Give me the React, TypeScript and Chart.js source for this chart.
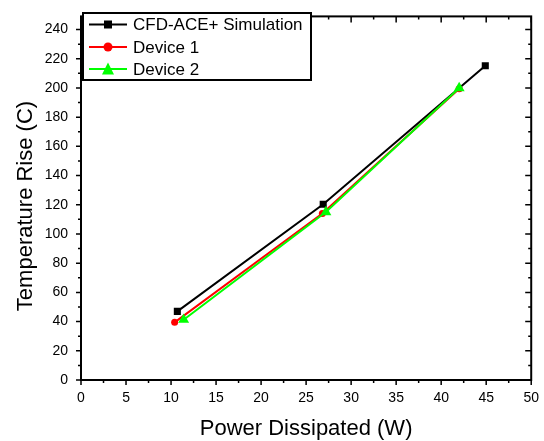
import React, { useEffect, useRef } from 'react';
import { Chart, registerables } from 'chart.js';

Chart.register(...registerables);

const seriesNames = ['CFD-ACE+ Simulation', 'Device 1', 'Device 2'];
const cfdX = [10.7, 26.9, 44.9];
const cfdY = [47, 120.4, 215.2];
const dev1X = [10.4, 26.8, 42.0];
const dev1Y = [39.5, 114, 199.5];
const dev2X = [11.4, 27.2, 42.0];
const dev2Y = [41.3, 115, 199.9];
const xTicks = [0, 5, 10, 15, 20, 25, 30, 35, 40, 45, 50];
const yTicks = [0, 20, 40, 60, 80, 100, 120, 140, 160, 180, 200, 220, 240];
const xTitle = 'Power Dissipated (W)';
const yTitle = 'Temperature Rise (C)';

const FONT = '"Liberation Sans", Arial, sans-serif';
const colors = ['#000000', '#ff0000', '#00ff00'];
const styles = ['rect', 'circle', 'triangle'];

function pts(xs: number[], ys: number[]) {
  return xs.map((x, i) => ({ x, y: ys[i] }));
}

function drawMarker(ctx: CanvasRenderingContext2D, style: string, x: number, y: number, size: number, color: string) {
  ctx.save();
  ctx.fillStyle = color;
  ctx.beginPath();
  if (style === 'rect') {
    ctx.rect(x - size / 2, y - size / 2, size, size);
  } else if (style === 'circle') {
    ctx.arc(x, y, size / 2, 0, Math.PI * 2);
  } else {
    const h = size * 0.9;
    ctx.moveTo(x, y - h / 2 - 1);
    ctx.lineTo(x + size / 2, y + h / 2);
    ctx.lineTo(x - size / 2, y + h / 2);
    ctx.closePath();
  }
  ctx.fill();
  ctx.restore();
}

const framePlugin = {
  id: 'framePlugin',
  afterDraw(chart: any) {
    const ctx: CanvasRenderingContext2D = chart.ctx;
    const { left, right, top, bottom } = chart.chartArea;
    const xs = chart.scales.x;
    const ys = chart.scales.y;
    ctx.save();
    ctx.strokeStyle = '#000';
    ctx.lineWidth = 2;
    ctx.strokeRect(left, top, right - left, bottom - top);
    ctx.lineWidth = 1.5;
    ctx.beginPath();
    for (let v = 0; v <= 50.001; v += 2.5) {
      const px = xs.getPixelForValue(v);
      const major = Math.abs(v / 5 - Math.round(v / 5)) < 1e-6;
      const len = major ? 5 : 3;
      ctx.moveTo(px, bottom);
      ctx.lineTo(px, bottom + len);
      ctx.moveTo(px, top);
      ctx.lineTo(px, top + len + (major ? 1 : 0));
    }
    for (let v = 0; v <= 249; v += 10) {
      const py = ys.getPixelForValue(v);
      const major = v % 20 === 0;
      const len = major ? 5 : 3;
      ctx.moveTo(left, py);
      ctx.lineTo(left - len, py);
      ctx.moveTo(right, py);
      ctx.lineTo(right - len - (major ? 1 : 0), py);
    }
    ctx.stroke();

    // axis titles
    ctx.fillStyle = '#000';
    ctx.font = `22px ${FONT}`;
    ctx.textAlign = 'center';
    ctx.textBaseline = 'alphabetic';
    ctx.fillText(xTitle, (left + right) / 2, 435);
    ctx.save();
    ctx.translate(32, 206);
    ctx.rotate(-Math.PI / 2);
    ctx.fillText(yTitle, 0, 0);
    ctx.restore();

    // legend
    const bx = 83, by = 13, bw = 228, bh = 67;
    ctx.fillStyle = '#fff';
    ctx.fillRect(bx, by, bw, bh);
    ctx.lineWidth = 2;
    ctx.strokeStyle = '#000';
    ctx.strokeRect(bx, by, bw, bh);
    const rows = [24.5, 47, 69];
    const msizes = [8, 9, 12];
    ctx.font = `17px ${FONT}`;
    ctx.textAlign = 'left';
    ctx.textBaseline = 'middle';
    seriesNames.forEach((name, i) => {
      const y = rows[i];
      ctx.strokeStyle = colors[i];
      ctx.lineWidth = 2;
      ctx.beginPath();
      ctx.moveTo(89, y);
      ctx.lineTo(127, y);
      ctx.stroke();
      drawMarker(ctx, styles[i], 108, y, msizes[i], colors[i]);
      ctx.fillStyle = '#000';
      ctx.fillText(name, 133, y + 1);
    });
    ctx.restore();
  },
};

export default function App() {
  const ref = useRef<HTMLCanvasElement | null>(null);
  useEffect(() => {
    document.body.style.margin = '0';
    const canvas = ref.current!;
    const tickFont = { family: FONT, size: 14 };
    const chart = new Chart(canvas, {
      type: 'line',
      data: {
        datasets: [
          {
            label: seriesNames[0],
            data: pts(cfdX, cfdY),
            borderColor: colors[0],
            backgroundColor: colors[0],
            borderWidth: 2,
            pointStyle: 'rect',
            pointRadius: 5,
            pointBorderWidth: 0,
            order: 3,
          },
          {
            label: seriesNames[1],
            data: pts(dev1X, dev1Y),
            borderColor: colors[1],
            backgroundColor: colors[1],
            borderWidth: 2,
            pointStyle: 'circle',
            pointRadius: 3.5,
            pointBorderWidth: 0,
            order: 2,
          },
          {
            label: seriesNames[2],
            data: pts(dev2X, dev2Y),
            borderColor: colors[2],
            backgroundColor: colors[2],
            borderWidth: 2,
            pointStyle: 'triangle',
            pointRadius: 6.3,
            pointBorderWidth: 0,
            order: 1,
          },
        ],
      },
      options: {
        responsive: false,
        animation: false,
        devicePixelRatio: 1,
        layout: { padding: { top: 13, right: 11, left: 0, bottom: 0 } },
        plugins: { legend: { display: false }, tooltip: { enabled: false } },
        scales: {
          x: {
            type: 'linear',
            position: 'bottom',
            min: 0,
            max: 50,
            afterFit: (s: any) => { s.height = 61; },
            afterBuildTicks: (s: any) => { s.ticks = xTicks.map((v) => ({ value: v })); },
            grid: { display: true, drawOnChartArea: false, color: 'rgba(0,0,0,0)', tickLength: 5 },
            border: { display: false },
            ticks: { font: tickFont, color: '#000', padding: 5, maxRotation: 0, autoSkip: false },
          },
          y: {
            type: 'linear',
            position: 'left',
            min: 0,
            max: 249,
            afterFit: (s: any) => { s.width = 81; },
            afterBuildTicks: (s: any) => { s.ticks = yTicks.map((v) => ({ value: v })); },
            grid: { display: true, drawOnChartArea: false, color: 'rgba(0,0,0,0)', tickLength: 5 },
            border: { display: false },
            ticks: { font: tickFont, color: '#000', padding: 8, autoSkip: false },
          },
        },
      },
      plugins: [framePlugin],
    } as any);
    return () => chart.destroy();
  }, []);
  return <canvas ref={ref} width={544} height={441} style={{ display: 'block' }} />;
}
